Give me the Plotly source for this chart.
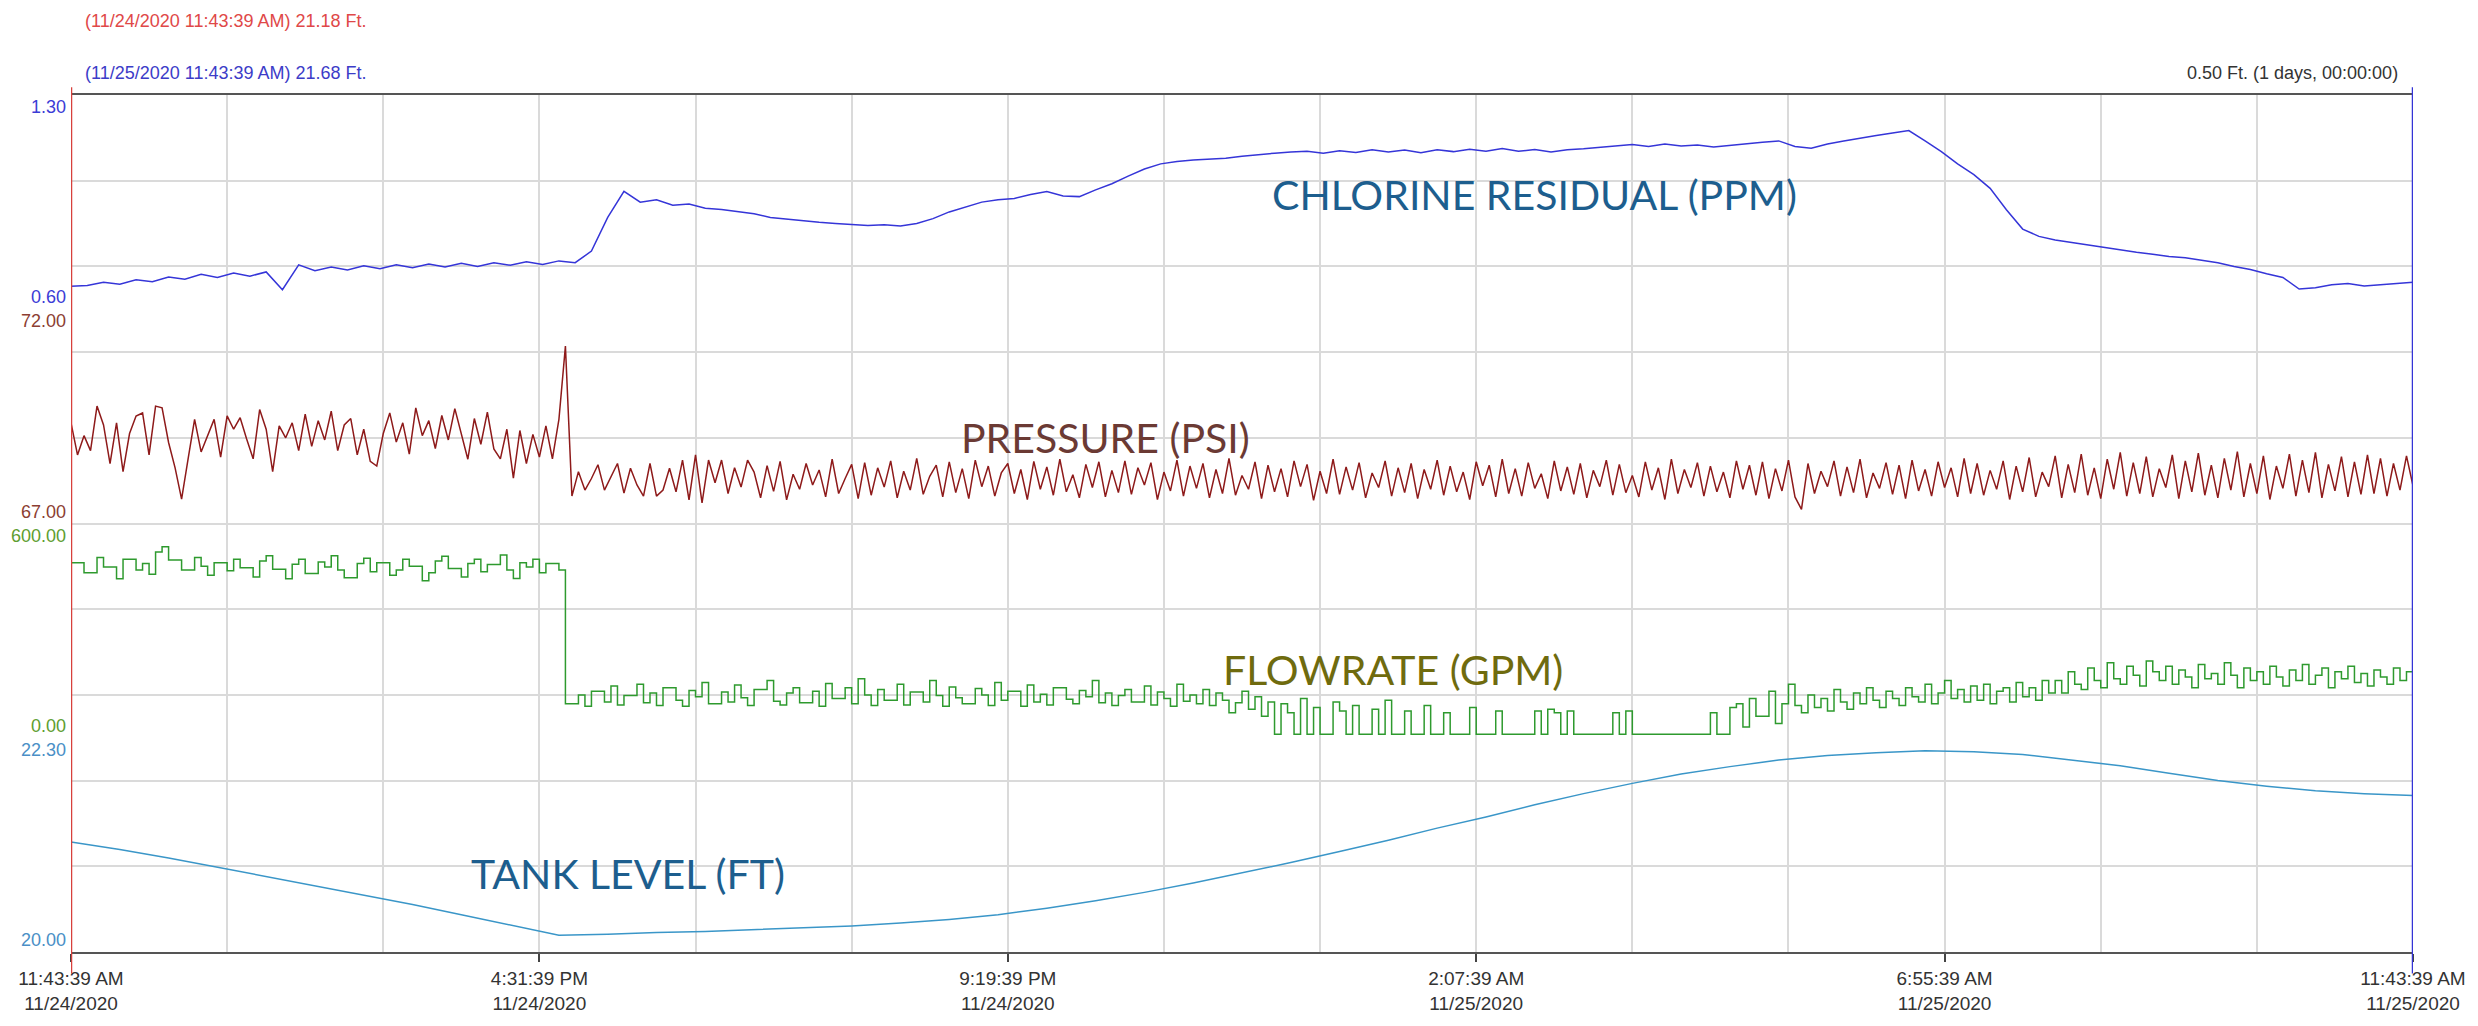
import pandas as pd
import plotly.graph_objects as go

# ---------------- data ----------------
start = "2020-11-24 11:43:39"
end = "2020-11-25 11:43:39"

tick_times = ["2020-11-24 11:43:39", "2020-11-24 16:31:39", "2020-11-24 21:19:39",
              "2020-11-25 02:07:39", "2020-11-25 06:55:39", "2020-11-25 11:43:39"]
tick_labels = ["11:43:39 AM<br>11/24/2020", "4:31:39 PM<br>11/24/2020", "9:19:39 PM<br>11/24/2020",
               "2:07:39 AM<br>11/25/2020", "6:55:39 AM<br>11/25/2020", "11:43:39 AM<br>11/25/2020"]

# tank level (ft), every 30 min
tank = [21.18, 21.10, 21.01, 20.91, 20.81, 20.71, 20.61, 20.51, 20.40, 20.29,
        20.18, 20.19, 20.21, 20.22, 20.24, 20.26, 20.28, 20.31, 20.35, 20.40,
        20.47, 20.55, 20.64, 20.74, 20.85, 20.96, 21.08, 21.20, 21.33, 21.45,
        21.58, 21.70, 21.81, 21.91, 21.99, 22.06, 22.11, 22.14, 22.16, 22.15,
        22.12, 22.06, 22.00, 21.92, 21.84, 21.78, 21.73, 21.70, 21.68]

# chlorine residual (ppm), every 10 min
chlorine = [0.675, 0.678, 0.688, 0.682, 0.696, 0.690, 0.705, 0.698, 0.714, 0.704, 0.718, 0.708,
            0.722, 0.664, 0.745, 0.726, 0.738, 0.728, 0.742, 0.732, 0.745, 0.736, 0.748, 0.738,
            0.750, 0.740, 0.752, 0.744, 0.755, 0.746, 0.758, 0.752, 0.790, 0.900, 0.985, 0.950,
            0.958, 0.940, 0.944, 0.930, 0.926, 0.918, 0.912, 0.900, 0.894, 0.888, 0.884, 0.880,
            0.878, 0.874, 0.876, 0.872, 0.880, 0.896, 0.918, 0.935, 0.950, 0.958, 0.962, 0.975,
            0.985, 0.970, 0.968, 0.990, 1.010, 1.035, 1.058, 1.075, 1.083, 1.088, 1.090, 1.093,
            1.100, 1.106, 1.110, 1.114, 1.116, 1.110, 1.118, 1.112, 1.121, 1.114, 1.120, 1.111,
            1.121, 1.115, 1.123, 1.116, 1.125, 1.116, 1.122, 1.114, 1.121, 1.124, 1.128, 1.132,
            1.138, 1.132, 1.140, 1.133, 1.137, 1.130, 1.136, 1.140, 1.146, 1.150, 1.132, 1.126,
            1.140, 1.150, 1.160, 1.168, 1.176, 1.184, 1.150, 1.115, 1.075, 1.040, 0.995, 0.925,
            0.862, 0.838, 0.826, 0.818, 0.808, 0.800, 0.794, 0.786, 0.780, 0.772, 0.768, 0.760,
            0.752, 0.740, 0.730, 0.716, 0.704, 0.666, 0.670, 0.680, 0.684, 0.676, 0.680, 0.686,
            0.688]

# pressure (psi), every 4 min
pressure = [69.35, 68.60, 69.05, 68.70, 69.74, 69.30, 68.40, 69.35, 68.21, 69.10, 69.51, 69.58,
            68.60, 69.74, 69.70, 68.89, 68.30, 67.57, 68.51, 69.43, 68.67, 69.05, 69.43, 68.55,
            69.51, 69.20, 69.47, 68.97, 68.51, 69.66, 69.20, 68.21, 69.28, 69.00, 69.35, 68.70,
            69.55, 68.80, 69.40, 68.95, 69.62, 68.70, 69.30, 69.45, 68.60, 69.20, 68.45, 68.34,
            69.10, 69.58, 68.90, 69.35, 68.62, 69.70, 69.05, 69.40, 68.75, 69.52, 68.95, 69.68,
            69.10, 68.50, 69.45, 68.85, 69.60, 68.74, 68.51, 69.20, 68.06, 69.17, 68.40, 69.08,
            68.55, 69.28, 68.51, 69.43, 71.14,
            67.64, 68.21, 67.78, 68.05, 68.37, 67.78, 68.10, 68.40, 67.71, 68.29, 67.90, 67.64,
            68.40, 67.64, 67.78, 68.29, 67.74, 68.48, 67.55, 68.60, 67.48, 68.48, 67.95, 68.48,
            67.70, 68.30, 67.85, 68.48, 68.20, 67.60, 68.35, 67.75, 68.45, 67.55, 68.15, 67.80,
            68.40, 67.90, 68.25, 67.62, 68.50, 67.70, 68.05, 68.38, 67.58, 68.42, 67.66, 68.30,
            67.85, 68.46, 67.60, 68.22, 67.78, 68.52, 67.68, 68.10, 68.36, 67.62, 68.44, 67.72,
            68.28, 67.58, 68.48, 67.86, 68.34, 67.64, 68.18, 68.40, 67.70, 68.26, 67.56, 68.45,
            67.80, 68.32, 67.66, 68.50, 67.74, 68.14, 67.60, 68.38, 67.84, 68.44, 67.62, 68.24,
            67.72, 68.46, 67.68, 68.30, 67.90, 68.42, 67.56, 68.20, 67.76, 68.48, 67.64, 68.34,
            67.82, 68.40, 67.60, 68.26, 67.70, 68.52, 67.66, 68.12, 67.80, 68.44, 67.58, 68.36,
            67.74, 68.28, 67.62, 68.46, 67.86, 68.38, 67.54, 68.22, 67.70, 68.50, 67.68, 68.32,
            67.78, 68.42, 67.60, 68.18, 67.84, 68.46, 67.64, 68.30, 67.72, 68.40, 67.58, 68.26,
            67.80, 68.48, 67.66, 68.34, 67.74, 68.20, 67.56, 68.44, 67.88, 68.36, 67.62, 68.50,
            67.70, 68.28, 67.64, 68.42, 67.82, 68.16, 67.58, 68.46, 67.76, 68.32, 67.68, 68.40,
            67.60, 68.24, 67.86, 68.48, 67.66, 68.38, 67.72, 68.12, 67.62, 68.44, 67.78, 68.30,
            67.56, 68.50, 67.70, 68.26, 67.84, 68.42, 67.64, 68.34, 67.74, 68.20, 67.60, 68.46,
            67.80, 68.36, 67.66, 68.44, 67.58, 68.28, 67.76, 68.48, 67.62, 67.33, 68.40, 67.70,
            68.22, 67.86, 68.46, 67.64, 68.32, 67.72, 68.50, 67.60, 68.18, 67.82, 68.42, 67.68,
            68.36, 67.58, 68.48, 67.76, 68.26, 67.64, 68.44, 67.84, 68.30, 67.62, 68.52, 67.70,
            68.40, 67.66, 68.24, 67.80, 68.46, 67.56, 68.34, 67.74, 68.54, 67.62, 68.20, 67.86,
            68.58, 67.60, 68.38, 67.72, 68.62, 67.66, 68.30, 67.58, 68.50, 67.80, 68.66, 67.64,
            68.42, 67.70, 68.56, 67.62, 68.28, 67.84, 68.60, 67.58, 68.46, 67.74, 68.64, 67.66,
            68.36, 67.60, 68.52, 67.78, 68.68, 67.62, 68.40, 67.70, 68.58, 67.56, 68.34, 67.82,
            68.62, 67.64, 68.48, 67.72, 68.66, 67.60, 68.38, 67.76, 68.56, 67.62, 68.44, 67.68,
            68.60, 67.70, 68.52, 67.64, 68.40, 67.78, 68.58, 67.88]

# flowrate (gpm), every 4 min (stepped)
flow = [490, 490, 462, 462, 505, 478, 478, 445, 500, 500, 470, 488,
        458, 520, 535, 498, 498, 470, 470, 505, 480, 455, 490, 490,
        468, 500, 476, 476, 450, 495, 510, 472, 472, 445, 486, 500,
        460, 460, 492, 478, 510, 470, 448, 448, 488, 503, 465, 490,
        490, 455, 470, 500, 480, 480, 440, 462, 495, 508, 474, 474,
        450, 488, 500, 465, 485, 485, 512, 470, 446, 490, 478, 500,
        462, 488, 488, 470, 95,
        95, 120, 88, 130, 130, 100, 145, 92, 118, 118, 150, 98,
        125, 90, 140, 140, 105, 88, 132, 115, 155, 95, 95, 128,
        100, 148, 112, 90, 135, 135, 160, 102, 92, 125, 140, 98,
        98, 130, 88, 152, 110, 110, 140, 95, 165, 120, 90, 135,
        105, 105, 150, 92, 128, 128, 100, 160, 118, 88, 142, 112,
        95, 95, 138, 120, 90, 155, 105, 130, 130, 88, 148, 100,
        122, 92, 140, 140, 108, 95, 132, 115, 160, 98, 125, 90,
        118, 135, 100, 100, 145, 92, 128, 110, 88, 150, 102, 120,
        95, 135, 90, 125, 105, 70, 98, 130, 80, 115, 60, 100,
        10, 95, 70, 10, 110, 10, 85, 10, 10, 100, 75, 10,
        90, 10, 10, 80, 10, 105, 10, 10, 75, 10, 10, 90,
        10, 10, 70, 10, 10, 10, 85, 10, 10, 10, 75, 10,
        10, 10, 10, 10, 75, 10, 80, 70, 10, 75, 10, 10,
        10, 10, 10, 10, 70, 10, 75, 10, 10, 10, 10, 10,
        10, 10, 10, 10, 10, 10, 10, 70, 10, 10, 85, 95,
        30, 110, 60, 60, 130, 40, 95, 150, 90, 70, 120, 85,
        110, 75, 135, 100, 80, 125, 95, 140, 105, 85, 130, 110,
        90, 140, 115, 100, 150, 95, 125, 160, 110, 135, 100, 145,
        105, 150, 95, 130, 140, 100, 155, 115, 140, 105, 160, 125,
        160, 125, 185, 150, 135, 195, 160, 140, 210, 165, 150, 200,
        175, 145, 215, 185, 160, 200, 150, 190, 170, 140, 205, 165,
        180, 150, 210, 175, 140, 195, 160, 185, 150, 200, 170, 145,
        190, 160, 205, 150, 175, 195, 140, 185, 165, 200, 155, 180,
        145, 190, 170, 150, 195, 160, 185, 175]

band_names = ["CHLORINE RESIDUAL (PPM)", "PRESSURE (PSI)", "FLOWRATE (GPM)", "TANK LEVEL (FT)"]
band_ranges = [[0.60, 1.30], [67.00, 72.00], [0.00, 600.00], [20.00, 22.30]]

# ---------------- styling ----------------
GRID = "#DADADA"
line_colors = ["#3535D8", "#8E1A1A", "#2E9A2E", "#3A96C8"]
tick_colors = ["#3C3CD6", "#8C3E32", "#5E9E30", "#4A8FC6"]
name_colors = ["#1D5E8E", "#6B3A34", "#6F6B0E", "#1D5E8E"]
name_pos = [(0.512, 0.884), (0.379, 0.600), (0.491, 0.330), (0.170, 0.092)]
domains = [[0.75, 1.0], [0.5, 0.75], [0.25, 0.5], [0.0, 0.25]]
yaxes = ["y2", "y3", "y4", "y5"]
lab_font = "Liberation Sans, Arial, sans-serif"

series = [
    (pd.date_range(start, end, periods=len(chlorine)), chlorine, "linear"),
    (pd.date_range(start, end, periods=len(pressure)), pressure, "linear"),
    (pd.date_range(start, end, periods=len(flow)), flow, "hv"),
    (pd.date_range(start, end, periods=len(tank)), tank, "linear"),
]

fig = go.Figure()
# invisible trace to host the full-height grid axis
fig.add_trace(go.Scatter(x=[], y=[], xaxis="x", yaxis="y", showlegend=False, hoverinfo="skip"))

for k, (t, v, shape) in enumerate(series):
    fig.add_trace(go.Scatter(x=t, y=v, mode="lines", xaxis="x", yaxis=yaxes[k],
                             line=dict(color=line_colors[k], width=1.5, shape=shape),
                             showlegend=False, name=band_names[k]))

# initial size leaves room for the default 8px body margin (page then fits the window
# exactly); the post-script removes the margin and grows the figure to the full window
layout = dict(
    width=2462, height=1010,
    margin=dict(l=71, r=53, t=95, b=55),
    paper_bgcolor="white", plot_bgcolor="rgba(0,0,0,0)",
    showlegend=False,
    xaxis=dict(type="date", range=[start, end], domain=[0, 1], anchor="y",
               tickvals=tick_times, ticktext=tick_labels,
               ticks="outside", ticklen=8, tickwidth=1.5, tickcolor="#444",
               tickfont=dict(family=lab_font, size=19, color="#333333"),
               showgrid=True, gridcolor=GRID, gridwidth=1.5,
               minor=dict(dtick=96 * 60 * 1000, tick0=start, showgrid=True,
                          gridcolor=GRID, gridwidth=1.5, ticks=""),
               showline=True, linecolor="#555555", linewidth=2, mirror=True,
               zeroline=False),
    yaxis=dict(domain=[0, 1], range=[0, 10], dtick=1, tick0=0, showgrid=True,
               gridcolor=GRID, gridwidth=1.5, showticklabels=False, ticks="",
               zeroline=False, showline=False),
)
for k, ya in enumerate(yaxes):
    layout["yaxis" + ya[1:]] = dict(domain=domains[k], range=band_ranges[k], anchor="x",
                                    showgrid=False, showticklabels=False, ticks="",
                                    zeroline=False, showline=False)
fig.update_layout(**layout)

ann = []
for k, ya in enumerate(yaxes):
    lo, hi = band_ranges[k]
    ann.append(dict(x=0, xref="paper", y=hi, yref=ya, xanchor="right", yanchor="top",
                    xshift=-3, text=f"{hi:.2f}", showarrow=False,
                    font=dict(family=lab_font, size=18, color=tick_colors[k])))
    ann.append(dict(x=0, xref="paper", y=lo, yref=ya, xanchor="right", yanchor="bottom",
                    xshift=-3, text=f"{lo:.2f}", showarrow=False,
                    font=dict(family=lab_font, size=18, color=tick_colors[k])))
    ann.append(dict(x=name_pos[k][0], y=name_pos[k][1], xref="paper", yref="paper",
                    xanchor="left", yanchor="middle", text=band_names[k], showarrow=False,
                    font=dict(family="Lato, Carlito, sans-serif", size=41, color=name_colors[k])))

fmt = "%m/%d/%Y %I:%M:%S %p"
ann.append(dict(x=0.005, y=1.086, xref="paper", yref="paper", xanchor="left", yanchor="middle",
                showarrow=False, text=f"({pd.Timestamp(start).strftime(fmt)}) {tank[0]:.2f} Ft.",
                font=dict(family=lab_font, size=18, color="#E04848")))
ann.append(dict(x=0.005, y=1.026, xref="paper", yref="paper", xanchor="left", yanchor="middle",
                showarrow=False, text=f"({pd.Timestamp(end).strftime(fmt)}) {tank[-1]:.2f} Ft.",
                font=dict(family=lab_font, size=18, color="#3C3CC8")))
ann.append(dict(x=0.9945, y=1.026, xref="paper", yref="paper", xanchor="right", yanchor="middle",
                showarrow=False, text=f"{tank[-1] - tank[0]:.2f} Ft. (1 days, 00:00:00)",
                font=dict(family=lab_font, size=18, color="#333333")))
fig.update_layout(annotations=ann)

# time cursors at both ends
cursors = [(start, "#D8403C"), (end, "#3434D6")]
fig.update_layout(shapes=[dict(type="line", xref="x", yref="paper", x0=c, x1=c, y0=-0.025, y1=1.009,
                               line=dict(color=col, width=2.5), layer="above") for c, col in cursors])

page_js = ("var h=document.documentElement,b=document.body;"
           "h.style.margin='0';h.style.padding='0';h.style.overflow='hidden';"
           "b.style.margin='0';b.style.padding='0';b.style.overflow='hidden';"
           "var gd=document.getElementById('{plot_id}');"
           "gd.style.width='2478px';gd.style.height='1026px';"
           "Plotly.relayout(gd,{width:2478,height:1026});")
fig.write_html("out.html", config={"displayModeBar": False}, post_script=page_js)
